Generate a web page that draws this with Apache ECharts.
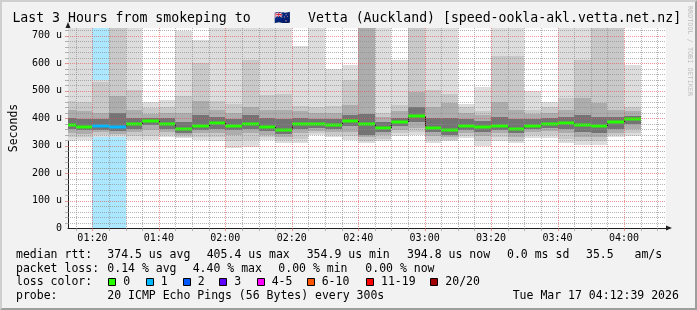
<!DOCTYPE html>
<html><head><meta charset="utf-8">
<script src="https://cdn.jsdelivr.net/npm/echarts@6/dist/echarts.min.js"></script>
<style>html,body{margin:0;padding:0;background:#f2f2f2}#c{width:697px;height:310px}</style>
</head><body><div id="c"></div>
<script>
// ---- data (values in microseconds, "u") ----
const stepEnds = ['01:15','01:20','01:25','01:30','01:35','01:40','01:45','01:50','01:55','02:00','02:05','02:10','02:15','02:20','02:25','02:30','02:35','02:40','02:45','02:50','02:55','03:00','03:05','03:10','03:15','03:20','03:25','03:30','03:35','03:40','03:45','03:50','03:55','04:00','04:05'];
const smokeTop0 = [760,760,540,760,760,458,467,718,683,760,760,760,760,760,664,760,580,592,760,760,610,760,760,760,452,515,760,760,500,457,760,760,760,760,595];
const smokeTop1 = [461,459,530,760,503,437,440,480,600,461,450,612,485,489,443,440,443,540,760,419,449,760,503,488,440,427,625,627,430,440,474,613,760,760,442];
const smokeTop2 = [430,425,420,479,430,415,420,420,461,430,420,441,430,430,425,420,420,449,760,405,425,494,440,455,420,410,458,430,415,420,430,472,456,430,425];
const smokeTop3 = [400,398,395,420,400,400,400,385,410,405,395,410,400,395,400,395,395,410,416,385,400,440,400,400,395,390,405,395,395,400,405,410,405,405,408];
const median    = [376,369,373,366,377,388,377,359,370,384,370,377,366,355,380,377,374,388,380,365,385,406,363,355,370,366,373,362,373,380,381,374,370,385,395];
const smokeBot3 = [360,355,358,352,362,375,362,345,355,362,355,362,352,342,360,365,360,370,340,350,370,385,348,340,355,350,358,345,360,365,362,350,345,360,378];
const smokeBot2 = [345,343,348,343,350,355,350,338,345,345,340,345,340,332,345,352,348,350,330,338,358,365,335,330,345,335,345,332,348,352,345,330,330,345,360];
const smokeBot1 = [330,333,338,337,335,335,340,332,333,330,315,320,330,320,325,345,338,335,318,325,345,350,322,322,335,318,330,318,337,340,325,315,318,338,345];
const smokeBot0 = [318,322,333,333,321,321,330,326,321,315,291,295,321,309,309,338,330,321,309,315,335,340,311,316,327,300,316,308,327,327,310,302,303,333,335];
const lossPings = [0,0,1,1,0,0,0,0,0,0,0,0,0,0,0,0,0,0,0,0,0,0,0,0,0,0,0,0,0,0,0,0,0,0,0];
const xTickLabels = ['01:20','01:40','02:00','02:20','02:40','03:00','03:20','03:40','04:00'];
const lossLegend = [['0','#26ff00'],['1','#00b8ff'],['2','#0059ff'],['3','#5e00ff'],['4-5','#ff00ff'],['6-10','#ff5500'],['11-19','#ff0000'],['20/20','#a00000']];
const rttStats = ['374.5 us avg','405.4 us max','354.9 us min','394.8 us now','0.0 ms sd','35.5   am/s'];
const lossStats = ['0.14 % avg','4.40 % max','0.00 % min','0.00 % now'];
const titleLeft = 'Last 3 Hours from smokeping to';
const titleFlag = '🇳🇿';
const titleRight = 'Vetta (Auckland) [speed-ookla-akl.vetta.net.nz]';
const probeText = '20 ICMP Echo Pings (56 Bytes) every 300s';
const stampText = 'Tue Mar 17 04:12:39 2026';

// ---- layout / style ----
const FONT = 'DejaVu Sans Mono';
const T0 = 72.65, T1 = 252.65, STEP = 5, YMAX = 728;
const SHADES = ['#dddddd', '#c9c9c9', '#adadad', '#747474'];
const GRID_MINOR = 'rgba(140,140,140,0.65)';
const GRID_MAJOR = 'rgba(222,79,79,0.6)';

function toMin(s) { const p = s.split(':').map(Number); return p[0] * 60 + p[1]; }
function fmtMin(v) { const h = Math.floor(v / 60), m = Math.round(v - h * 60); return String(h).padStart(2, '0') + ':' + String(m).padStart(2, '0'); }
function lossColor(n) {
  const idx = n === 0 ? 0 : n === 1 ? 1 : n === 2 ? 2 : n === 3 ? 3 : n <= 5 ? 4 : n <= 10 ? 5 : n <= 19 ? 6 : 7;
  return lossLegend[idx][1];
}

const rows = stepEnds.map((t, i) => [toMin(t), smokeTop0[i], smokeTop1[i], smokeTop2[i], smokeTop3[i], median[i], smokeBot3[i], smokeBot2[i], smokeBot1[i], smokeBot0[i], lossPings[i]]);

function cs(params) { const c = params.coordSys; return { x: c.x, y: c.y, width: c.width, height: c.height }; }
function barX(api, t) { return [Math.round(api.coord([t - STEP, 0])[0]), Math.round(api.coord([t, 0])[0])]; }

function renderLoss(params, api) {
  const loss = api.value(10);
  if (!loss) return null;
  const [xa, xb] = barX(api, api.value(0));
  const r = cs(params);
  const shape = echarts.graphic.clipRectByRect({ x: xa, y: r.y, width: xb - xa, height: r.height }, r);
  if (!shape) return null;
  return { type: 'rect', shape, style: { fill: lossColor(loss), opacity: 0.33 } };
}

function renderSmoke(params, api) {
  const t = api.value(0);
  const [xa, xb] = barX(api, t);
  const r = cs(params);
  const layers = [[1, 9], [2, 8], [3, 7], [4, 6]];
  const children = [];
  layers.forEach((ly, k) => {
    const yt = Math.round(api.coord([t, api.value(ly[0])])[1]);
    const yb = Math.round(api.coord([t, api.value(ly[1])])[1]);
    const shape = echarts.graphic.clipRectByRect({ x: xa, y: yt, width: xb - xa, height: yb - yt }, r);
    if (shape) children.push({ type: 'rect', shape, style: { fill: SHADES[k] } });
  });
  return { type: 'group', children };
}

function renderMedianLink(params, api) {
  const i = params.dataIndex;
  if (i === 0) return null;
  const t = api.value(0);
  const [xa] = barX(api, t);
  const y1 = api.coord([t, median[i - 1]])[1], y2 = api.coord([t, api.value(5)])[1];
  return { type: 'line', shape: { x1: xa + 0.5, y1: Math.round(y1), x2: xa + 0.5, y2: Math.round(y2) }, style: { stroke: '#202020', lineWidth: 1 } };
}

function renderMedian(params, api) {
  const t = api.value(0);
  const [xa, xb] = barX(api, t);
  const r = cs(params);
  const y = Math.round(api.coord([t, api.value(5)])[1]);
  const shape = echarts.graphic.clipRectByRect({ x: xa, y: y - 1.5, width: xb - xa, height: 3 }, r);
  if (!shape) return null;
  return { type: 'rect', shape, style: { fill: lossColor(api.value(10)) } };
}

// grid lines (drawn on top of the data, like rrdtool)
const vGrid = [], hGrid = [];
const majorX = xTickLabels.map(toMin);
for (let m = 75; m < T1; m += 5) vGrid.push([m, majorX.indexOf(m) >= 0 ? 1 : 0]);
for (let v = 20; v < YMAX; v += 20) hGrid.push([T0, v, v % 100 === 0 ? 1 : 0]);

function renderVGrid(params, api) {
  const r = cs(params);
  const x = Math.round(api.coord([api.value(0), 0])[0]) + 0.5;
  const major = api.value(1) === 1;
  return { type: 'group', children: [
    { type: 'line', shape: { x1: x, y1: r.y, x2: x, y2: r.y + r.height }, style: { stroke: major ? GRID_MAJOR : GRID_MINOR, lineWidth: 1, lineDash: [1, 1] } },
    { type: 'line', shape: { x1: x, y1: r.y + r.height, x2: x, y2: r.y + r.height + 3 }, style: { stroke: major ? GRID_MAJOR : GRID_MINOR, lineWidth: 1 } }
  ] };
}
function renderHGrid(params, api) {
  const r = cs(params);
  const y = Math.round(api.coord([T0, api.value(1)])[1]) + 0.5;
  const major = api.value(2) === 1;
  return { type: 'group', children: [
    { type: 'line', shape: { x1: r.x, y1: y, x2: r.x + r.width, y2: y }, style: { stroke: major ? GRID_MAJOR : GRID_MINOR, lineWidth: 1, lineDash: [1, 1] } },
    { type: 'line', shape: { x1: r.x - 3, y1: y, x2: r.x, y2: y }, style: { stroke: major ? GRID_MAJOR : GRID_MINOR, lineWidth: 1 } }
  ] };
}

// ---- text / legend graphics ----
const txt = (x, y, s, extra) => Object.assign({ type: 'text', x, y, style: Object.assign({ text: s, fontFamily: FONT, fontSize: 11.5, fill: '#000', verticalAlign: 'middle', textAlign: 'left' }, extra || {}) });
const gfx = [];
// 3D frame
gfx.push({ type: 'polygon', shape: { points: [[0, 310], [2, 308], [2, 2], [695, 2], [697, 0], [0, 0]] }, style: { fill: '#cfcfcf' } });
gfx.push({ type: 'polygon', shape: { points: [[2, 308], [695, 308], [695, 2], [697, 0], [697, 310], [0, 310]] }, style: { fill: '#9e9e9e' } });
// title
gfx.push(txt(12.4, 18.8, titleLeft, { fontSize: 13.2 }));
gfx.push(txt(282, 18.8, titleFlag, { fontSize: 13.2, textAlign: 'center' }));
gfx.push(txt(308, 18.8, titleRight, { fontSize: 13.2 }));
// watermark
gfx.push({ type: 'text', x: 690, y: 6, rotation: -Math.PI / 2, style: { text: 'RRDTOOL / TOBI OETIKER', fontFamily: FONT, fontSize: 6.8, fill: '#bdbdbd', verticalAlign: 'middle', textAlign: 'left' } });
// legend lines
const rttX = [107.3, 206.7, 306.7, 407, 507, 586];
gfx.push(txt(16, 255, 'median rtt:'));
rttStats.forEach((s, i) => gfx.push(txt(rttX[i], 255, s)));
const lossX = [107.3, 192.7, 278.3, 365.3];
gfx.push(txt(16, 269, 'packet loss:'));
lossStats.forEach((s, i) => gfx.push(txt(lossX[i], 269, s)));
gfx.push(txt(16, 282.4, 'loss color:'));
const swX = [108.3, 145.7, 182.7, 219.3, 256.7, 306.7, 366, 430.3];
lossLegend.forEach((l, i) => {
  gfx.push({ type: 'rect', shape: { x: Math.round(swX[i]) + 0.5, y: 278.5, width: 7, height: 7 }, style: { fill: l[1], stroke: '#000', lineWidth: 1 } });
  gfx.push(txt(swX[i] + 15, 282.4, l[0]));
});
gfx.push(txt(16, 296, 'probe:'));
gfx.push(txt(107.3, 296, probeText));
gfx.push(txt(512.7, 296, stampText));

const chart = echarts.init(document.getElementById('c'), null, { renderer: 'canvas' });
chart.setOption({
  animation: false,
  backgroundColor: '#f2f2f2',
  grid: { left: 66, right: 31, top: 28, bottom: 82, show: true, backgroundColor: '#ffffff', borderWidth: 0, containLabel: false },
  xAxis: {
    type: 'value', min: T0, max: T1,
    axisLine: { show: true, onZero: false, lineStyle: { color: '#202020', width: 1 }, symbol: ['none', 'triangle'], symbolSize: [5, 6], symbolOffset: [0, 3] },
    axisTick: { show: false },
    splitLine: { show: false },
    axisLabel: { customValues: majorX, formatter: v => fmtMin(v), fontFamily: FONT, fontSize: 10, color: '#000', margin: 5 }
  },
  yAxis: {
    type: 'value', min: 0, max: YMAX, interval: 100,
    name: 'Seconds', nameLocation: 'middle', nameGap: 48,
    nameTextStyle: { fontFamily: FONT, fontSize: 11.5, color: '#000' },
    axisLine: { show: true, lineStyle: { color: '#202020', width: 1 }, symbol: ['none', 'triangle'], symbolSize: [5, 6], symbolOffset: [0, 3] },
    axisTick: { show: false },
    splitLine: { show: false },
    axisLabel: { showMaxLabel: false, fontFamily: FONT, fontSize: 10, color: '#000', margin: 6, formatter: v => (v % 100 !== 0 ? '' : (v === 0 ? '0' : v + ' u')) }
  },
  graphic: gfx,
  series: [
    { type: 'custom', name: 'loss', renderItem: renderLoss, data: rows, z: 1, silent: true },
    { type: 'custom', name: 'smoke', renderItem: renderSmoke, data: rows, z: 2, silent: true },
    { type: 'custom', name: 'medianLink', renderItem: renderMedianLink, data: rows, z: 3, silent: true },
    { type: 'custom', name: 'median', renderItem: renderMedian, data: rows, z: 4, silent: true },
    { type: 'custom', name: 'vgrid', renderItem: renderVGrid, data: vGrid, z: 5, silent: true },
    { type: 'custom', name: 'hgrid', renderItem: renderHGrid, data: hGrid, z: 5, silent: true }
  ]
});
</script>
</body></html>
